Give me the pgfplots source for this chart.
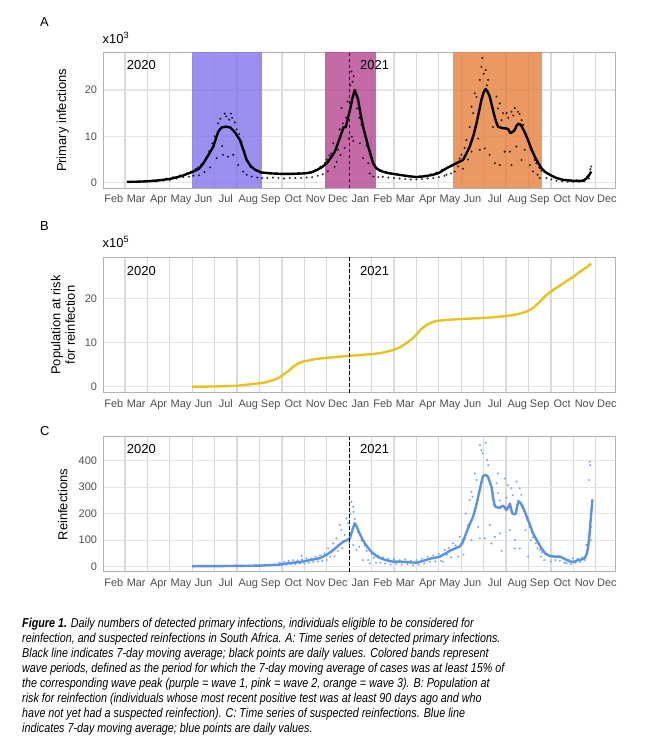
\documentclass[border=0pt]{standalone}
\usepackage{fontspec}
\setmainfont{Liberation Sans}
\newfontfamily\capfont[FakeStretch=0.83]{Liberation Sans}
\usepackage{pgfplots}
\pgfplotsset{compat=1.18}

\definecolor{wavea}{RGB}{130,115,236}
\definecolor{waveb}{RGB}{181,70,145}
\definecolor{wavec}{RGB}{228,128,58}
\definecolor{riskyellow}{RGB}{230,195,30}
\definecolor{reinfblue}{RGB}{88,146,226}
\definecolor{ticktext}{RGB}{80,80,80}

\pgfplotsset{
  panel/.style={
    scale only axis, width=512.4bp,
    xmin=0.033, xmax=22.89,
    xtick={0.5,1.5,...,22.5},
    xticklabels={Feb,Mar,Apr,May,Jun,Jul,Aug,Sep,Oct,Nov,Dec,Jan,Feb,Mar,Apr,May,Jun,Jul,Aug,Sep,Oct,Nov,Dec},
    minor xtick={1,2,...,22},
    xminorgrids=true, ymajorgrids=true,
    tick style={draw=none}, minor tick style={draw=none},
    axis line style={draw=black!30, line width=0.7bp},
    minor grid style={draw=black!15, line width=1.3bp},
    major grid style={draw=black!10, line width=1.3bp},
    tick label style={font=\fontsize{11}{12}\selectfont, text=ticktext},
    xticklabel style={yshift=-3.2bp, text height=8bp, text depth=2.3bp},
    yticklabel style={xshift=-2.8bp},
    /pgf/number format/assume math mode=true,
  },
  dots/.style={only marks, mark=*, mark size=1.15bp, mark options={draw opacity=0, fill opacity=0.8}},
}

\newcommand{\yearline}{\draw[black, line width=0.9bp, dash pattern=on 3.5bp off 2.5bp]
  ({axis cs:11,0}|-{rel axis cs:0,0}) -- ({axis cs:11,0}|-{rel axis cs:0,1});}
\newcommand{\band}[3]{\fill[#1, fill opacity=0.8]
  ({axis cs:#2,0}|-{rel axis cs:0,0}) rectangle ({axis cs:#3,0}|-{rel axis cs:0,1});}

\begin{document}
\begin{tikzpicture}
\path[use as bounding box] (0,0) rectangle (647bp,-749bp);

% ---------------- A: primary infections ----------------
\begin{axis}[panel, at={(103.3bp,-188bp)}, anchor=south west, height=136bp,
  ymin=-1.15, ymax=28.2, ytick={0,10,20}]
\band{wavea}{4.0}{7.09}
\band{waveb}{9.92}{12.18}
\band{wavec}{15.64}{19.58}
\addplot[dots, black] coordinates {
(1.2,0.1) (1.35,0.2) (1.5,0.15) (1.65,0.25) (1.8,0.2) (1.95,0.35) (2.1,0.25) (2.25,0.45) (2.4,0.3) (2.55,0.55)
(2.7,0.45) (2.85,0.9) (3.0,0.6) (3.15,1.2) (3.3,0.9) (3.45,1.6) (3.6,1.2) (3.75,2.0) (3.85,1.3) (3.95,2.4)
(4.05,1.5) (4.15,2.9) (4.25,3.3) (4.3,1.6) (4.4,3.9) (4.5,4.4) (4.55,2.3) (4.65,5.6) (4.75,6.8) (4.8,3.3)
(4.9,8.5) (5.0,10.0) (5.09,5.3) (5.15,12.8) (5.25,13.8) (5.34,7.9) (5.38,6.0) (5.45,14.9) (5.52,14.3) (5.6,5.6)
(5.65,13.6) (5.72,14.9) (5.78,14.0) (5.83,6.0) (5.9,13.0) (5.98,11.5) (6.05,3.8) (6.1,10.5) (6.2,8.8) (6.27,2.4)
(6.33,6.8) (6.4,5.2) (6.43,1.7) (6.5,4.3) (6.6,3.4) (6.65,1.3) (6.75,3.0) (6.85,2.6) (6.9,1.1) (7.0,2.3)
(7.05,2.1) (7.12,1.0) (7.25,2.1) (7.35,1.0) (7.5,2.0) (7.6,1.1) (7.75,2.0) (7.85,1.0) (8.0,1.9) (8.1,0.9)
(8.25,1.9) (8.35,1.0) (8.5,2.0) (8.6,1.0) (8.75,2.1) (8.85,1.0) (9.0,2.1) (9.1,1.1) (9.25,2.3) (9.35,1.2)
(9.5,2.8) (9.6,1.5) (9.72,3.5) (9.82,1.8) (9.92,4.3) (10.0,5.0) (10.05,2.5) (10.12,5.9) (10.2,6.3) (10.29,8.5)
(10.35,3.4) (10.44,4.5) (10.45,8.0) (10.51,7.1) (10.58,11.5) (10.62,6.0) (10.66,16.1) (10.72,12.8) (10.8,7.5) (10.86,14.0)
(10.92,17.5) (10.98,9.5) (11.05,21.0) (11.1,24.0) (11.12,9.9) (11.15,21.8) (11.2,23.0) (11.18,9.0) (11.28,19.5) (11.35,16.0)
(11.48,8.5) (11.45,14.0) (11.55,12.5) (11.62,5.3) (11.7,10.0) (11.78,8.0) (11.85,4.2) (11.92,2.0) (11.95,6.0) (12.02,4.8)
(12.08,1.3) (12.15,3.6) (12.22,3.0) (12.3,1.2) (12.4,2.7) (12.5,1.3) (12.65,2.3) (12.75,1.1) (12.9,2.0) (13.0,1.0)
(13.15,1.8) (13.25,0.9) (13.4,1.6) (13.5,0.8) (13.65,1.4) (13.75,0.7) (13.9,1.3) (14.0,0.7) (14.15,1.4) (14.25,0.8)
(14.4,1.5) (14.5,0.9) (14.65,1.8) (14.75,1.0) (14.9,2.2) (15.0,1.2) (15.15,2.8) (15.25,1.5) (15.34,1.7) (15.42,3.4)
(15.55,2.0) (15.6,3.8) (15.71,2.4) (15.78,4.2) (15.86,3.5) (15.93,5.2) (16.01,6.0) (16.08,3.0) (16.15,7.5) (16.23,9.2)
(16.3,5.0) (16.38,12.0) (16.46,16.4) (16.46,6.7) (16.53,15.0) (16.6,19.3) (16.68,18.5) (16.75,9.5) (16.83,22.2) (16.83,7.1)
(16.9,25.0) (16.94,26.9) (17.0,23.5) (17.05,7.4) (17.09,24.3) (17.15,21.0) (17.2,22.2) (17.27,6.0) (17.33,17.5) (17.42,12.0)
(17.5,4.2) (17.57,18.6) (17.64,16.0) (17.72,17.1) (17.72,3.8) (17.8,13.5) (17.87,15.0) (17.94,6.7) (18.02,15.0) (18.1,14.0)
(18.17,6.7) (18.24,15.3) (18.24,3.8) (18.32,14.5) (18.39,16.1) (18.46,7.8) (18.53,15.3) (18.6,14.8) (18.69,13.5) (18.69,4.9)
(18.76,12.5) (18.83,7.1) (18.9,10.5) (18.98,9.0) (19.06,3.8) (19.12,7.0) (19.2,2.4) (19.28,4.9) (19.35,4.2) (19.4,1.7)
(19.48,3.2) (19.5,1.0) (19.58,2.6) (19.7,2.3) (19.8,1.0) (19.92,1.9) (20.02,0.7) (20.15,1.3) (20.25,0.4) (20.4,0.8)
(20.5,0.3) (20.65,0.6) (20.75,0.2) (20.9,0.5) (21.0,0.2) (21.15,0.5) (21.25,0.2) (21.4,0.5) (21.5,0.3) (21.62,1.3)
(21.7,0.9) (21.76,2.9) (21.8,3.5)
};
\addplot[black, line width=2.4bp, line join=round] coordinates {
(1.08,0.2) (1.5,0.2) (2.0,0.3) (2.5,0.5) (3.0,0.8) (3.5,1.4) (4.0,2.3) (4.3,3.0) (4.5,4.2) (4.7,5.8)
(4.94,7.8) (5.16,11.0) (5.3,11.9) (5.5,12.1) (5.7,11.9) (5.9,10.9) (6.13,9.2) (6.3,6.8) (6.42,5.0) (6.6,3.6)
(6.8,2.8) (7.09,2.2) (7.5,2.0) (8.0,1.9) (8.5,1.9) (9.0,2.0) (9.3,2.2) (9.55,2.7) (9.8,3.4) (10.0,4.2)
(10.2,5.5) (10.36,6.7) (10.5,8.5) (10.66,10.7) (10.75,12.0) (10.85,12.0) (10.95,14.0) (11.05,16.0) (11.15,18.3) (11.25,20.0)
(11.4,17.9) (11.5,15.0) (11.62,12.1) (11.85,7.8) (12.07,4.2) (12.2,3.2) (12.37,2.6) (12.7,2.1) (12.96,1.9) (13.5,1.5)
(14.0,1.2) (14.4,1.4) (14.74,1.7) (15.0,2.1) (15.34,3.1) (15.7,4.0) (16.08,4.9) (16.25,6.5) (16.38,7.8) (16.55,10.3)
(16.68,12.8) (16.8,15.5) (16.9,17.9) (17.0,19.5) (17.08,20.2) (17.17,19.7) (17.27,18.6) (17.35,17.0) (17.45,15.0) (17.55,13.2)
(17.64,12.1) (17.8,11.8) (18.01,11.7) (18.1,11.5) (18.19,10.7) (18.3,11.0) (18.39,11.4) (18.47,12.3) (18.54,12.7) (18.62,12.6)
(18.69,12.2) (18.8,11.2) (18.98,9.2) (19.1,7.6) (19.28,5.6) (19.45,4.1) (19.58,3.1) (19.75,2.3) (19.95,1.7) (20.2,1.1)
(20.54,0.6) (21.0,0.4) (21.43,0.4) (21.58,0.9) (21.7,1.6) (21.8,2.4)
};
\yearline
\end{axis}

% ---------------- B: population at risk ----------------
\begin{axis}[panel, at={(103.3bp,-392.7bp)}, anchor=south west, height=135.4bp,
  ymin=-1.36, ymax=29.3, ytick={0,10,20}]
\addplot[riskyellow, line width=2.4bp, line join=round] coordinates {
(4.0,0.0) (5.0,0.05) (6.0,0.2) (7.02,0.8) (7.3,1.0) (7.61,1.5) (7.85,2.0) (8.06,2.7) (8.3,3.6) (8.5,4.5)
(8.7,5.2) (8.95,5.7) (9.25,6.0) (9.55,6.3) (10.14,6.6) (11.03,7.0) (12.07,7.4) (12.5,7.7) (12.96,8.3) (13.3,9.0)
(13.56,9.9) (13.8,10.8) (14.0,11.8) (14.2,13.0) (14.45,14.0) (14.7,14.6) (14.9,14.9) (15.4,15.15) (15.93,15.3) (16.5,15.45)
(17.13,15.6) (17.6,15.8) (18.02,16.0) (18.5,16.4) (18.91,17.0) (19.2,17.8) (19.5,19.2) (19.8,20.8) (20.1,21.9) (20.4,22.9)
(20.69,23.9) (21.0,24.9) (21.29,26.0) (21.55,26.9) (21.8,27.9)
};
\yearline
\end{axis}

% ---------------- C: reinfections ----------------
\begin{axis}[panel, at={(103.3bp,-571.7bp)}, anchor=south west, height=135bp,
  ymin=-18.9, ymax=490.6, ytick={0,100,200,300,400}]
\addplot[dots, reinfblue] coordinates {
(4.1,1) (4.4,2) (4.7,2) (5.0,3) (5.3,2) (5.6,3) (5.9,4) (6.2,3) (6.5,4) (6.8,5)
(7.1,4) (7.4,6) (7.7,7) (7.9,15) (8.0,5) (8.1,18) (8.2,8) (8.3,22) (8.4,10) (8.5,25)
(8.6,10) (8.7,24) (8.8,12) (8.88,41) (8.9,28) (9.0,12) (9.1,32) (9.2,15) (9.3,30) (9.4,18)
(9.5,38) (9.6,20) (9.7,42) (9.8,22) (9.9,50) (10.0,25) (10.06,69) (10.15,38) (10.22,55) (10.29,88)
(10.35,40) (10.43,107) (10.5,60) (10.58,157) (10.65,138) (10.7,70) (10.8,120) (10.88,183) (10.95,164) (11.0,90)
(11.05,200) (11.1,245) (11.18,226) (11.2,207) (11.18,82) (11.25,180) (11.33,63) (11.4,130) (11.45,75) (11.55,100)
(11.62,25) (11.7,80) (11.78,60) (11.85,25) (11.92,13) (12.0,50) (12.1,35) (12.2,15) (12.25,40) (12.3,40)
(12.4,15) (12.5,35) (12.6,12) (12.75,30) (12.85,8) (13.0,28) (13.1,10) (13.25,25) (13.35,8) (13.5,28)
(13.6,10) (13.75,22) (13.85,5) (14.0,25) (14.1,8) (14.25,30) (14.35,12) (14.5,38) (14.6,18) (14.75,42)
(14.85,20) (15.0,48) (15.1,22) (15.19,19) (15.27,63) (15.35,45) (15.45,70) (15.55,35) (15.64,88) (15.75,80)
(15.86,38) (15.93,113) (16.05,100) (16.1,45) (16.16,107) (16.2,201) (16.3,157) (16.38,252) (16.46,283) (16.5,264)
(16.46,101) (16.6,352) (16.68,327) (16.75,150) (16.83,459) (16.9,440) (16.83,107) (16.95,428) (17.05,107) (17.09,468)
(17.15,403) (17.2,383) (17.27,157) (17.35,88) (17.42,280) (17.5,113) (17.57,315) (17.64,352) (17.64,277) (17.72,126)
(17.72,250) (17.8,60) (17.94,333) (18.02,260) (18.09,308) (18.17,138) (18.24,296) (18.3,270) (18.39,69) (18.39,101)
(18.46,321) (18.53,250) (18.61,296) (18.61,69) (18.68,271) (18.75,230) (18.87,138) (18.98,38) (18.95,180) (19.05,150)
(19.1,101) (19.2,110) (19.32,88) (19.4,70) (19.5,63) (19.55,38) (19.6,55) (19.7,25) (19.8,45) (19.9,45)
(20.0,20) (20.1,40) (20.2,25) (20.3,38) (20.4,22) (20.5,35) (20.6,15) (20.69,13) (20.8,25) (20.9,10)
(20.99,32) (21.1,15) (21.2,30) (21.3,18) (21.4,35) (21.5,25) (21.58,82) (21.62,50) (21.73,396) (21.75,383)
(21.7,327) (21.8,150) (21.78,100)
};
\addplot[reinfblue, line width=2.4bp, line join=round] coordinates {
(4.0,2) (5.0,2) (6.0,3) (7.0,4) (7.9,8) (8.3,13) (8.8,18) (9.2,24) (9.69,32) (10.0,45)
(10.29,63) (10.5,78) (10.73,94) (10.9,100) (11.03,107) (11.15,140) (11.25,164) (11.32,155) (11.4,138) (11.55,110)
(11.7,88) (11.9,65) (12.07,50) (12.3,36) (12.52,28) (12.75,22) (12.96,19) (13.3,19) (13.56,18) (13.8,16)
(14.0,15) (14.3,22) (14.6,30) (14.85,34) (15.04,38) (15.3,50) (15.49,60) (15.7,68) (15.93,76) (16.05,90)
(16.16,113) (16.35,155) (16.53,189) (16.65,225) (16.75,262) (16.85,300) (16.97,343) (17.1,346) (17.2,338) (17.28,318)
(17.35,300) (17.42,260) (17.5,228) (17.6,224) (17.72,222) (17.8,228) (17.87,230) (17.95,222) (18.02,214) (18.1,225)
(18.17,238) (18.23,215) (18.29,200) (18.38,198) (18.44,202) (18.5,232) (18.57,246) (18.65,240) (18.77,220) (18.87,200)
(18.98,176) (19.1,150) (19.2,126) (19.4,95) (19.58,69) (19.75,50) (19.95,40) (20.2,38) (20.4,38) (20.6,30)
(20.84,20) (21.0,18) (21.21,25) (21.4,28) (21.51,32) (21.6,50) (21.66,75) (21.72,120) (21.76,164) (21.85,254)
};
\yearline
\end{axis}

% ---------------- labels ----------------
\begin{scope}[every node/.style={inner sep=0pt, font=\fontsize{13}{15.5}\selectfont}]
\node[anchor=base west] at (40bp,-26bp) {A};
\node[anchor=base west] at (40bp,-230.5bp) {B};
\node[anchor=base west] at (40bp,-435.5bp) {C};
\node[anchor=base west] at (102.5bp,-43.3bp) {x10\textsuperscript{3}};
\node[anchor=base west] at (102.5bp,-247.3bp) {x10\textsuperscript{5}};
\node[anchor=base west] at (126.7bp,-69.3bp) {2020};
\node[anchor=base west] at (360bp,-69.3bp) {2021};
\node[anchor=base west] at (126.7bp,-275bp) {2020};
\node[anchor=base west] at (360bp,-275bp) {2021};
\node[anchor=base west] at (126.7bp,-453.3bp) {2020};
\node[anchor=base west] at (360bp,-453.3bp) {2021};
\node[rotate=90] at (62.7bp,-120.5bp) {Primary infections};
\node[rotate=90, align=center, font=\fontsize{13}{14.5}\selectfont] at (63bp,-325bp) {Population at risk\\for reinfection};
\node[rotate=90] at (62.7bp,-504.7bp) {Reinfections};
\end{scope}

\begin{scope}[every node/.style={inner sep=0pt, anchor=base west, font=\capfont\itshape\fontsize{13}{15}\selectfont}]
\node at (22bp,-627.3bp) {\textbf{Figure 1.} Daily numbers of detected primary infections, individuals eligible to be considered for};
\node at (22bp,-642.4bp) {reinfection, and suspected reinfections in South Africa. A: Time series of detected primary infections.};
\node at (22bp,-657.4bp) {Black line indicates 7-day moving average; black points are daily values. Colored bands represent};
\node at (22bp,-672.5bp) {wave periods, defined as the period for which the 7-day moving average of cases was at least 15\% of};
\node at (22bp,-687.5bp) {the corresponding wave peak (purple = wave 1, pink = wave 2, orange = wave 3). B: Population at};
\node at (22bp,-702.6bp) {risk for reinfection (individuals whose most recent positive test was at least 90 days ago and who};
\node at (22bp,-717.6bp) {have not yet had a suspected reinfection). C: Time series of suspected reinfections. Blue line};
\node at (22bp,-732.7bp) {indicates 7-day moving average; blue points are daily values.};
\end{scope}
\end{tikzpicture}
\end{document}
